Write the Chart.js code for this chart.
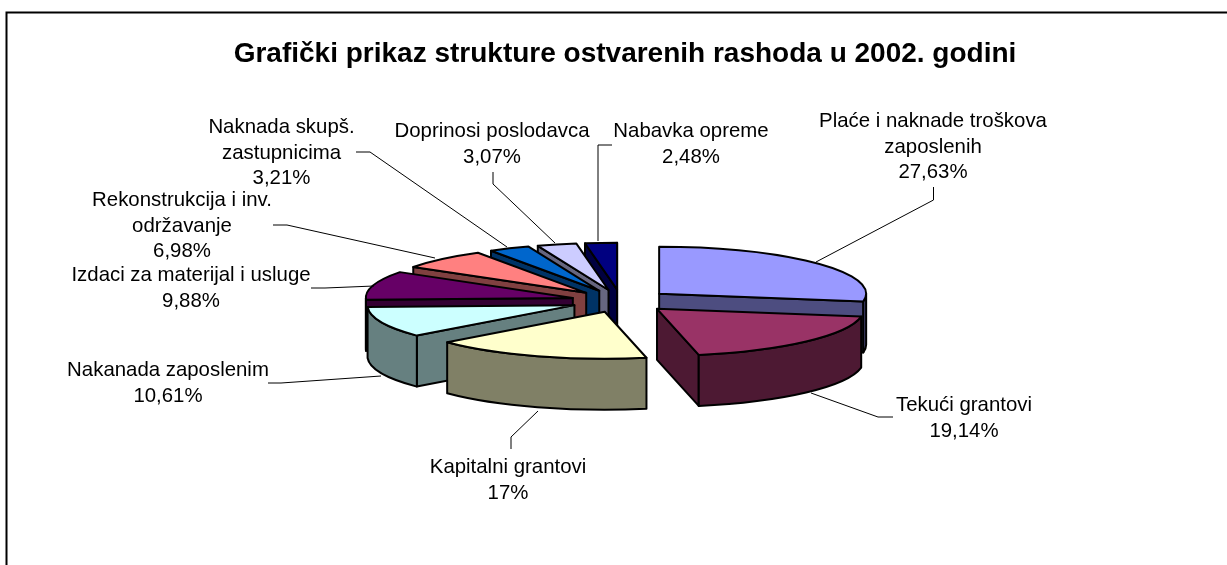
<!DOCTYPE html>
<html lang="hr">
<head>
<meta charset="utf-8">
<title>Grafički prikaz strukture ostvarenih rashoda u 2002. godini</title>
<script src="https://cdn.jsdelivr.net/npm/chart.js@4"></script>
<style>
html,body{margin:0;padding:0;background:#fff;overflow:hidden}
canvas{display:block}
</style>
</head>
<body>
<canvas id="c" width="1227" height="565"></canvas>
<script>
const chartTitle = 'Grafički prikaz strukture ostvarenih rashoda u 2002. godini';
const categories = ['Plaće i naknade troškova zaposlenih','Tekući grantovi','Kapitalni grantovi','Nakanada zaposlenim','Izdaci za materijal i usluge','Rekonstrukcija i inv. održavanje','Naknada skupš. zastupnicima','Doprinosi poslodavca','Nabavka opreme'];
const values = [27.63,19.14,17,10.61,9.88,6.98,3.21,3.07,2.48];
const valueTexts = ['27,63%','19,14%','17%','10,61%','9,88%','6,98%','3,21%','3,07%','2,48%'];
const topColors = ['#9999FF','#993366','#FFFFCC','#CCFFFF','#660066','#FF8080','#0066CC','#CCCCFF','#000080'];
const wallColors = ['#4D4D80','#4D1933','#808066','#668080','#330033','#804040','#003366','#666680','#000040'];
const categoryLines = [['Plaće i naknade troškova','zaposlenih'],['Tekući grantovi'],['Kapitalni grantovi'],['Nakanada zaposlenim'],['Izdaci za materijal i usluge'],['Rekonstrukcija i inv.','održavanje'],['Naknada skupš.','zastupnicima'],['Doprinosi poslodavca'],['Nabavka opreme']];

// layout (pixels): label centre x and first baseline, leader polylines
const labelPos = [[933,127],[964,411],[508,473],[168,376],[191,281],[182,206],[281.5,133],[492,137],[691,137]];
const leaders = [
  [[933.5,187],[933.5,200],[816,262]],
  [[893,417],[878,417],[811,393]],
  [[511,449],[511,437],[538,411]],
  [[268,383],[281,383],[381,376]],
  [[311,288],[325,288],[374,286]],
  [[273,225],[287,225],[435,258]],
  [[356,152],[370,152],[507,247]],
  [[493,172],[493,184],[555,243]],
  [[612,145],[598,145],[598,241]]
];
const CX = 621, CY = 301, SQUASH = 0.227, EXPLODE = 50, DEPTH = 51;
const drawOrder = [8,7,6,5,4,3,0,1,2];
const LINE = 2;

const pie3d = {
  id: 'pie3d',
  beforeDraw(chart) {
    const ctx = chart.ctx;
    ctx.save();
    ctx.fillStyle = '#fff';
    ctx.fillRect(0, 0, chart.width, chart.height);
    ctx.strokeStyle = '#000';
    ctx.lineWidth = 2;
    ctx.beginPath();
    ctx.moveTo(6.5, chart.height);
    ctx.lineTo(6.5, 12.5);
    ctx.lineTo(chart.width, 12.5);
    ctx.stroke();
    ctx.restore();
  },
  beforeDatasetsDraw(chart) {
    const ctx = chart.ctx;
    const arcs = chart.getDatasetMeta(0).data;
    ctx.save();
    ctx.lineJoin = 'round';
    ctx.lineWidth = LINE;
    ctx.strokeStyle = '#000';
    for (const i of drawOrder) {
      const arc = arcs[i];
      const a1 = arc.startAngle, a2 = arc.endAngle, mid = (a1 + a2) / 2;
      const rx = arc.outerRadius, ry = rx * SQUASH;
      const X = CX + Math.cos(mid) * EXPLODE;
      const Y = CY + Math.sin(mid) * EXPLODE * SQUASH;
      const rim = (a, dz) => [X + rx * Math.cos(a), Y + ry * Math.sin(a) + dz];
      const wall = (a) => {
        const p = rim(a, 0);
        ctx.beginPath();
        ctx.moveTo(X, Y);
        ctx.lineTo(p[0], p[1]);
        ctx.lineTo(p[0], p[1] + DEPTH);
        ctx.lineTo(X, Y + DEPTH);
        ctx.closePath();
        ctx.fillStyle = wallColors[i];
        ctx.fill();
        ctx.stroke();
      };
      if (Math.cos(a1) < 0) wall(a1);
      if (Math.cos(a2) > 0) wall(a2);
      const lo = Math.max(a1, 0), hi = Math.min(a2, Math.PI);
      if (hi > lo) {
        ctx.beginPath();
        ctx.ellipse(X, Y, rx, ry, 0, lo, hi);
        ctx.ellipse(X, Y + DEPTH, rx, ry, 0, hi, lo, true);
        ctx.closePath();
        ctx.fillStyle = wallColors[i];
        ctx.fill();
        ctx.stroke();
      }
      // the top face is the library's own arc, projected
      ctx.save();
      ctx.translate(X, Y);
      ctx.scale(1, SQUASH);
      ctx.translate(-arc.x, -arc.y);
      arc.draw(ctx);
      ctx.restore();
      ctx.beginPath();
      ctx.moveTo(X, Y);
      ctx.ellipse(X, Y, rx, ry, 0, a1, a2);
      ctx.closePath();
      ctx.stroke();
    }
    ctx.restore();
    drawLabels(chart);
    return false;
  }
};

function drawLabels(chart) {
  const ctx = chart.ctx;
  ctx.save();
  ctx.strokeStyle = '#000';
  ctx.lineWidth = 1;
  leaders.forEach(pts => {
    ctx.beginPath();
    pts.forEach((p, k) => k ? ctx.lineTo(p[0], p[1]) : ctx.moveTo(p[0], p[1]));
    ctx.stroke();
  });
  ctx.fillStyle = '#000';
  ctx.font = '20.4px "Liberation Sans", Arial, sans-serif';
  ctx.textAlign = 'center';
  ctx.textBaseline = 'alphabetic';
  categoryLines.forEach((lines, i) => {
    const all = lines.concat([valueTexts[i]]);
    all.forEach((t, k) => ctx.fillText(t, labelPos[i][0], labelPos[i][1] + k * 25.6));
  });
  ctx.restore();
}

new Chart(document.getElementById('c'), {
  type: 'pie',
  plugins: [pie3d],
  data: {
    labels: categories,
    datasets: [{
      data: values,
      backgroundColor: topColors,
      borderWidth: 0,
      radius: 207
    }]
  },
  options: {
    responsive: false,
    animation: false,
    events: [],
    layout: { padding: { left: 23 } },
    plugins: {
      legend: { display: false },
      tooltip: { enabled: false },
      title: {
        display: true,
        text: chartTitle,
        color: '#000',
        font: { family: '"Liberation Sans", Arial, sans-serif', size: 28, weight: 'bold', lineHeight: 1.2 },
        padding: { top: 37, bottom: 10 }
      }
    }
  }
});
</script>
</body>
</html>
